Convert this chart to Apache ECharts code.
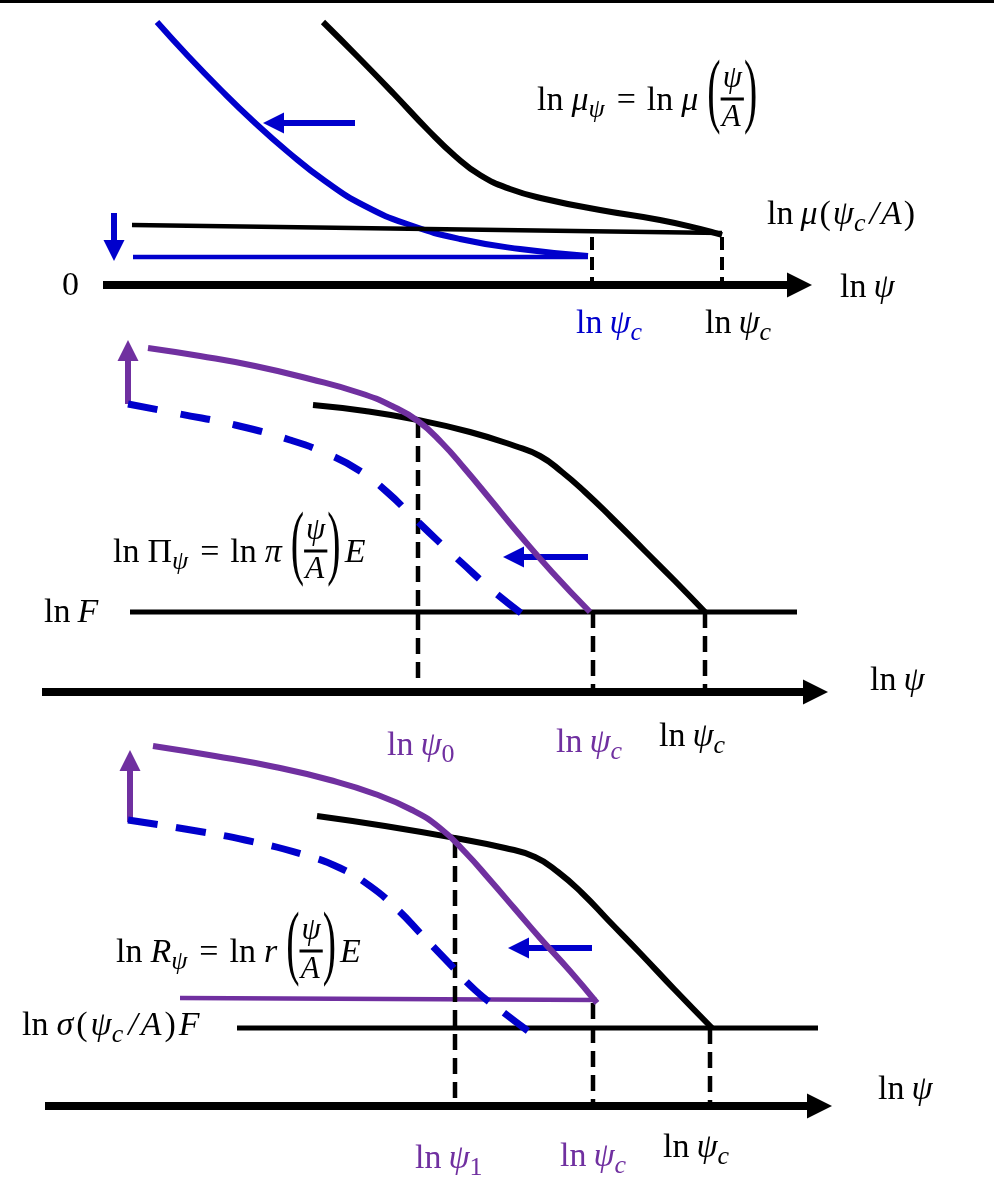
<!DOCTYPE html>
<html>
<head>
<meta charset="utf-8">
<script src="https://cdn.jsdelivr.net/npm/echarts@6.0.0/dist/echarts.min.js"></script>
<style>
  html, body { margin: 0; padding: 0; background: #ffffff; }
  #chart { width: 994px; height: 1204px; }
</style>
</head>
<body>
<div id="chart"></div>
<script>
// Schematic plane: x runs along ln ψ, y runs downward (level), same units as the canvas.

// ---------- panel 1: ln μ ----------
const muCurve      = [[323,22],[358,57],[393,93],[428,130],[455,156],[480,175],[510,189],[545,199],[600,210],[660,220],[700,229],[722,235]];
const muShifted    = [[157,22],[188,56],[220,89],[253,121],[288,152],[325,181],[365,206],[410,225],[460,239],[520,249],[588,256]];
const muLevel      = [[132,225],[722,233]];
const muShiftLevel = [[133,257],[588,257]];
const axis1        = [[103,285],[812,285]];
const drops1       = [[[592,237],[592,285]], [[722,237],[722,285]]];
const shiftArrowsBlue1 = [[[355,123],[263,123]], [[114,213],[114,261]]];

// ---------- panel 2: ln Π ----------
const piCurve      = [[313,405],[365,411],[418,420],[470,432],[515,446],[540,456],[562,472],[585,492],[612,518],[645,551],[675,581],[705,612]];
const piRaised     = [[148,348],[200,356],[255,366],[310,379],[360,393],[392,406],[418,421],[442,443],[465,469],[490,499],[518,533],[552,572],[590,612]];
const piShifted    = [[128,404],[180,414],[235,425],[290,440],[330,455],[360,471],[387,492],[412,516],[437,540],[462,563],[492,590],[521,613]];
const levelF       = [[130,612],[797,612]];
const axis2        = [[42,692],[828,692]];
const drops2       = [[[418,422],[418,680]], [[593,612],[593,692]], [[705,612],[705,692]]];
const raiseArrow2  = [[128,404],[128,340]];
const shiftArrow2  = [[588,557],[503,557]];

// ---------- panel 3: ln R ----------
const rCurve       = [[317,816],[385,826],[455,838],[505,848],[535,857],[558,872],[582,893],[608,920],[640,953],[675,990],[712,1028]];
const rRaised      = [[153,746],[215,756],[275,767],[330,780],[375,794],[412,810],[440,828],[465,852],[490,880],[515,909],[540,938],[570,971],[597,1003]];
const rShifted     = [[128,820],[185,829],[245,840],[305,855],[340,868],[370,886],[397,909],[422,935],[447,961],[475,990],[503,1012],[528,1031]];
const rLevel       = [[180,998],[597,1000]];
const sigmaLevel   = [[237,1028],[818,1028]];
const axis3        = [[45,1106],[832,1106]];
const drops3       = [[[455,842],[455,1106]], [[593,1003],[593,1106]], [[710,1028],[710,1106]]];
const raiseArrow3  = [[130,822],[130,750]];
const shiftArrow3  = [[592,948],[508,948]];

// frame rule along the top edge
const topRule      = [[0,1.5],[994,1.5]];

const BLUE = '#0000CC', PURPLE = '#7030A0', BLACK = '#000000';

// ---------- series helpers ----------
function curve(data, color, width) {
  return { type: 'line', data: data, smooth: 0.5, showSymbol: false, symbol: 'none', silent: true,
           animation: false, lineStyle: { color: color, width: width, cap: 'butt', join: 'round' } };
}
// dashed curve whose dash pattern is stretched so it both starts and ends on a dash
function dashedCurve(data, color, width, dash, gap) {
  let len = 0;
  for (let i = 1; i < data.length; i++) len += Math.hypot(data[i][0] - data[i-1][0], data[i][1] - data[i-1][1]);
  const n = Math.max(1, Math.round((len - dash) / (dash + gap)));
  const period = (len - dash) / n;
  const s = curve(data, color, width);
  s.lineStyle.type = [dash, period - dash];
  return s;
}
function straight(data, color, width, type) {
  return { type: 'line', data: data, smooth: false, showSymbol: false, symbol: 'none', silent: true,
           animation: false, lineStyle: { color: color, width: width, type: type || 'solid', cap: 'butt' } };
}
// arrow: shaft ends at the centre of the triangular head, whose apex sits on the tip
function arrow(seg, color, width, head) {
  const [a, b] = seg;
  const dx = b[0] - a[0], dy = b[1] - a[1];
  const len = Math.hypot(dx, dy);
  const end = [b[0] - dx / len * head / 2, b[1] - dy / len * head / 2];
  return { type: 'lines', coordinateSystem: 'cartesian2d', polyline: false, silent: true, animation: false,
           symbol: ['none', 'triangle'], symbolSize: [0, head],
           lineStyle: { color: color, width: width, opacity: 1, curveness: 0 },
           data: [{ coords: [a, end] }] };
}

const series = [
  straight(topRule, BLACK, 3),
  // panel 1
  curve(muCurve, BLACK, 6),
  curve(muShifted, BLUE, 6),
  straight(muLevel, BLACK, 4.5),
  straight(muShiftLevel, BLUE, 4.5),
  ...drops1.map(d => straight(d, BLACK, 4, [13, 7])),
  arrow(axis1, BLACK, 8, 25),
  ...shiftArrowsBlue1.map(s => arrow(s, BLUE, 6, 21)),
  // panel 2
  straight(levelF, BLACK, 5),
  ...drops2.map(d => straight(d, BLACK, 4.5, [16, 8])),
  curve(piCurve, BLACK, 6),
  dashedCurve(piShifted, BLUE, 7, 30, 21),
  curve(piRaised, PURPLE, 6),
  arrow(axis2, BLACK, 8, 25),
  arrow(raiseArrow2, PURPLE, 6, 21),
  arrow(shiftArrow2, BLUE, 6, 21),
  // panel 3
  straight(sigmaLevel, BLACK, 5),
  straight(rLevel, PURPLE, 4.5),
  ...drops3.map(d => straight(d, BLACK, 4.5, [16, 8])),
  curve(rCurve, BLACK, 6),
  dashedCurve(rShifted, BLUE, 7, 30, 21),
  curve(rRaised, PURPLE, 6),
  arrow(axis3, BLACK, 8, 25),
  arrow(raiseArrow3, PURPLE, 6, 21),
  arrow(shiftArrow3, BLUE, 6, 21)
];

const chart = echarts.init(document.getElementById('chart'), null, { renderer: 'canvas' });
chart.setOption({
  backgroundColor: '#ffffff',
  animation: false,
  grid: { left: 0, right: 0, top: 0, bottom: 0 },
  xAxis: { type: 'value', min: 0, max: 994, show: false },
  yAxis: { type: 'value', min: 0, max: 1204, inverse: true, show: false },
  series: series
});

// ---------- math typesetting with graphic text ----------
const SERIF = '"Liberation Serif", "Times New Roman", serif';
const FS = 34;
const meas = document.createElement('canvas').getContext('2d');
function fnt(size, it) { return (it ? 'italic ' : '') + size + 'px ' + SERIF; }
function wid(t, size, it) { meas.font = fnt(size, it); return meas.measureText(t).width; }
function glyph(x, y, t, size, it, color, sx, sy) {
  return { type: 'text', x: x, y: y, scaleX: sx || 1, scaleY: sy || 1, silent: true,
           style: { text: t, x: 0, y: 0, font: fnt(size, it), fill: color, align: 'left', verticalAlign: 'middle' } };
}
const U  = t => ({ k: 'u', t });     // upright
const I  = t => ({ k: 'i', t });     // italic
const S  = t => ({ k: 's', t });     // italic subscript
const SU = t => ({ k: 'su', t });    // upright subscript
const G  = n => ({ k: 'g', n });     // horizontal gap
const F  = (n, d) => ({ k: 'f', n, d }); // parenthesised fraction

function typeset(x, y, toks, color) {
  const out = [];
  let cx = x;
  toks.forEach(tok => {
    if (tok.k === 'g') { cx += tok.n; return; }
    if (tok.k === 'u' || tok.k === 'i') {
      const it = tok.k === 'i';
      out.push(glyph(cx, y, tok.t, FS, it, color));
      cx += wid(tok.t, FS, it);
      return;
    }
    if (tok.k === 's' || tok.k === 'su') {
      const it = tok.k === 's', sz = Math.round(FS * 0.75);
      out.push(glyph(cx, y + FS * 0.28, tok.t, sz, it, color));
      cx += wid(tok.t, sz, it) + 2;
      return;
    }
    if (tok.k === 'f') {
      const ps = 42, sy = 1.97, sx = 0.95;
      out.push(glyph(cx, y - 6, '(', ps, false, color, sx, sy));
      cx += wid('(', ps, false) * sx;
      const ns = Math.round(FS * 0.92);
      const nw = wid(tok.n, ns, true), dw = wid(tok.d, ns, true);
      const bw = Math.max(nw, dw) + 4;
      out.push({ type: 'rect', silent: true, shape: { x: cx, y: y - 3.5, width: bw, height: 3 }, style: { fill: color } });
      out.push(glyph(cx + (bw - nw) / 2, y - FS * 0.66, tok.n, ns, true, color));
      out.push(glyph(cx + (bw - dw) / 2 - 1, y + FS * 0.49, tok.d, ns, true, color));
      cx += bw;
      out.push(glyph(cx, y - 6, ')', ps, false, color, sx, sy));
      cx += wid(')', ps, false) * sx + 4;
    }
  });
  return out;
}

const lnPsiC = [U('ln'), G(7), I('ψ'), S('c')];
const annotations = [
  { at: [537, 101],  color: BLACK,  toks: [U('ln'), G(8), I('μ'), S('ψ'), G(10), U('='), G(11), U('ln'), G(8), I('μ'), G(9), F('ψ', 'A')] },
  { at: [767, 215],  color: BLACK,  toks: [U('ln'), G(7), I('μ'), G(2), U('('), G(2), I('ψ'), S('c'), G(2), I('/'), G(2), I('A'), G(2), U(')')] },
  { at: [62, 286],   color: BLACK,  toks: [U('0')] },
  { at: [840, 288],  color: BLACK,  toks: [U('ln'), G(7), I('ψ')] },
  { at: [576, 324],  color: BLUE,   toks: lnPsiC },
  { at: [705, 324],  color: BLACK,  toks: lnPsiC },

  { at: [113, 553],  color: BLACK,  toks: [U('ln'), G(8), U('Π'), S('ψ'), G(10), U('='), G(11), U('ln'), G(8), I('π'), G(9), F('ψ', 'A'), I('E')] },
  { at: [44, 613],   color: BLACK,  toks: [U('ln'), G(7), I('F')] },
  { at: [870, 681],  color: BLACK,  toks: [U('ln'), G(7), I('ψ')] },
  { at: [387, 746],  color: PURPLE, toks: [U('ln'), G(7), I('ψ'), SU('0')] },
  { at: [556, 743],  color: PURPLE, toks: lnPsiC },
  { at: [659, 737],  color: BLACK,  toks: lnPsiC },

  { at: [116, 953],  color: BLACK,  toks: [U('ln'), G(8), I('R'), S('ψ'), G(10), U('='), G(11), U('ln'), G(8), I('r'), G(9), F('ψ', 'A'), I('E')] },
  { at: [22, 1026],  color: BLACK,  toks: [U('ln'), G(8), I('σ'), G(3), U('('), G(3), I('ψ'), S('c'), G(3), I('/'), G(3), I('A'), G(3), U(')'), G(3), I('F')] },
  { at: [878, 1090], color: BLACK,  toks: [U('ln'), G(7), I('ψ')] },
  { at: [415, 1159], color: PURPLE, toks: [U('ln'), G(7), I('ψ'), SU('1')] },
  { at: [560, 1157], color: PURPLE, toks: lnPsiC },
  { at: [663, 1148], color: BLACK,  toks: lnPsiC }
];

const graphics = [];
annotations.forEach(a => {
  const p = chart.convertToPixel({ gridIndex: 0 }, a.at);
  typeset(p[0], p[1], a.toks, a.color).forEach(g => graphics.push(g));
});
chart.setOption({ graphic: graphics });
</script>
</body>
</html>
